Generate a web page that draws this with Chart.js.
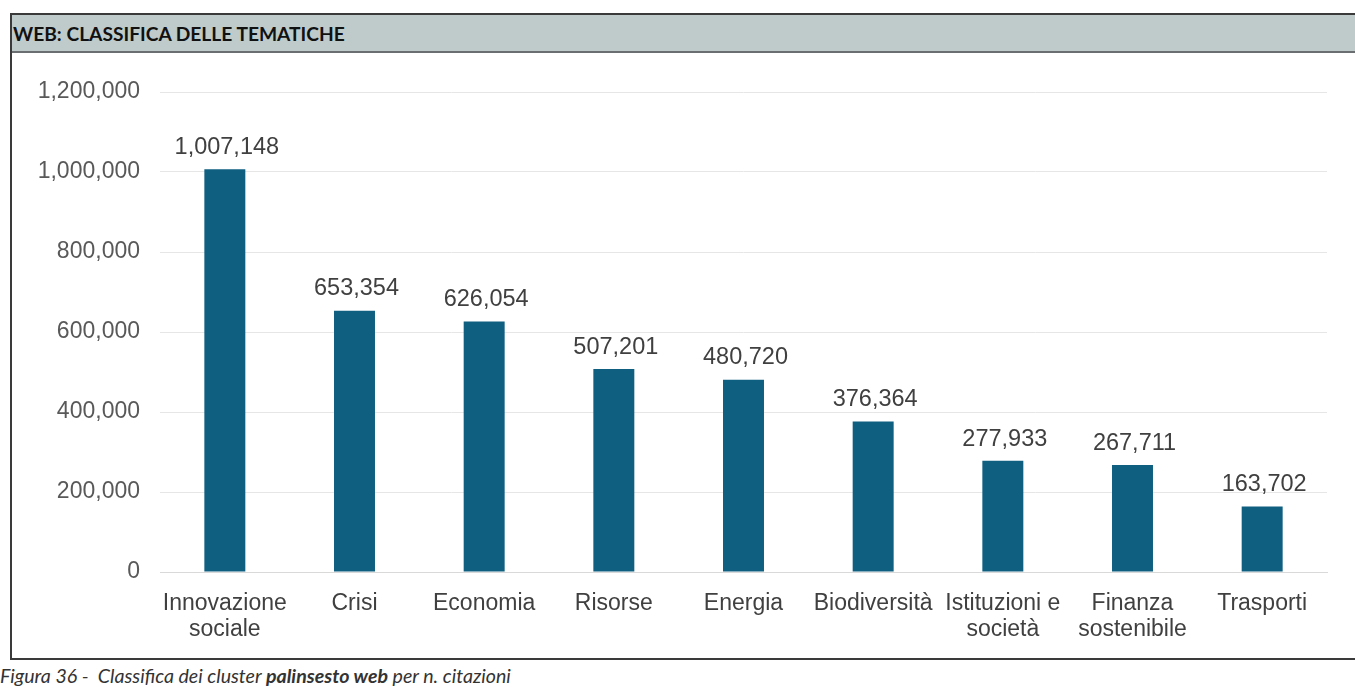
<!DOCTYPE html>
<html>
<head>
<meta charset="utf-8">
<script src="https://cdn.jsdelivr.net/npm/chart.js@4"></script>
<style>
  html, body { margin:0; padding:0; background:#fff; width:1355px; height:688px; overflow:hidden; }
  #frame { position:absolute; left:10px; top:13px; width:1360px; height:647px; border:2px solid #3a3a3a; border-right:none; box-sizing:border-box; }
  #header { position:absolute; left:12px; top:15px; width:1343px; height:38px; background:#bfcbcb; border-bottom:2px solid #6a6e70; box-sizing:border-box; }
  #title { position:absolute; left:13px; top:22px; font-family:Lato, sans-serif; font-weight:700; font-size:19.2px; color:#111; white-space:nowrap; }
  #caption { position:absolute; left:0px; top:664px; font-family:Lato, sans-serif; font-style:italic; font-size:19.6px; color:#333; white-space:nowrap; }
  #wrap { position:absolute; left:11px; top:54px; width:1344px; height:605px; }
</style>
</head>
<body>
<div id="frame"></div>
<div id="header"></div>
<div id="title">WEB: CLASSIFICA DELLE TEMATICHE</div>
<div id="wrap"><canvas id="c" width="1344" height="605"></canvas></div>
<div id="caption">Figura 36 -&nbsp; Classifica dei cluster <b>palinsesto web</b> per n. citazioni</div>
<script>
const categories = [
  ["Innovazione", "sociale"],
  "Crisi",
  "Economia",
  "Risorse",
  "Energia",
  "Biodiversità",
  ["Istituzioni e", "società"],
  ["Finanza", "sostenibile"],
  "Trasporti"
];
const citazioni = [1007148, 653354, 626054, 507201, 480720, 376364, 277933, 267711, 163702];
const yTicks = [0, 200000, 400000, 600000, 800000, 1000000, 1200000];

const fmt = v => v.toLocaleString('en-US');

const valueLabels = {
  id: 'valueLabels',
  afterDatasetsDraw(chart) {
    const ctx = chart.ctx;
    const meta = chart.getDatasetMeta(0);
    ctx.save();
    ctx.font = '23.5px "Liberation Sans", Arial, sans-serif';
    ctx.fillStyle = '#404040';
    ctx.textAlign = 'center';
    ctx.textBaseline = 'bottom';
    meta.data.forEach((bar, i) => {
      ctx.fillText(fmt(citazioni[i]), bar.x + 2, bar.y - 10);
    });
    ctx.restore();
  }
};

new Chart(document.getElementById('c'), {
  type: 'bar',
  data: {
    labels: categories,
    datasets: [{
      data: citazioni,
      backgroundColor: '#0f5f80',
      borderWidth: 0,
      barPercentage: 0.316,
      categoryPercentage: 1.0
    }]
  },
  options: {
    responsive: false,
    animation: false,
    devicePixelRatio: 1,
    layout: { padding: { top: 38, right: 28, left: 0, bottom: 0 } },
    plugins: { legend: { display: false }, tooltip: { enabled: false } },
    scales: {
      x: {
        grid: { display: false, drawTicks: false },
        border: { display: true, color: '#d9d9d9', width: 1 },
        ticks: {
          color: '#404040',
          padding: 19,
          maxRotation: 0,
          autoSkip: false,
          font: { family: '"Liberation Sans", Arial, sans-serif', size: 23, lineHeight: 1.13 }
        },
        afterFit(s) { s.height = 87; }
      },
      y: {
        min: 0,
        max: 1200000,
        afterBuildTicks(s) { s.ticks = yTicks.map(v => ({ value: v })); },
        grid: { color: '#e6e6e6', lineWidth: 1, drawTicks: false },
        border: { display: false },
        ticks: {
          color: '#595959',
          padding: 20,
          callback: v => fmt(v),
          font: { family: '"Liberation Sans", Arial, sans-serif', size: 23 }
        },
        afterFit(s) { s.width = 149; }
      }
    }
  },
  plugins: [valueLabels]
});
</script>
</body>
</html>
